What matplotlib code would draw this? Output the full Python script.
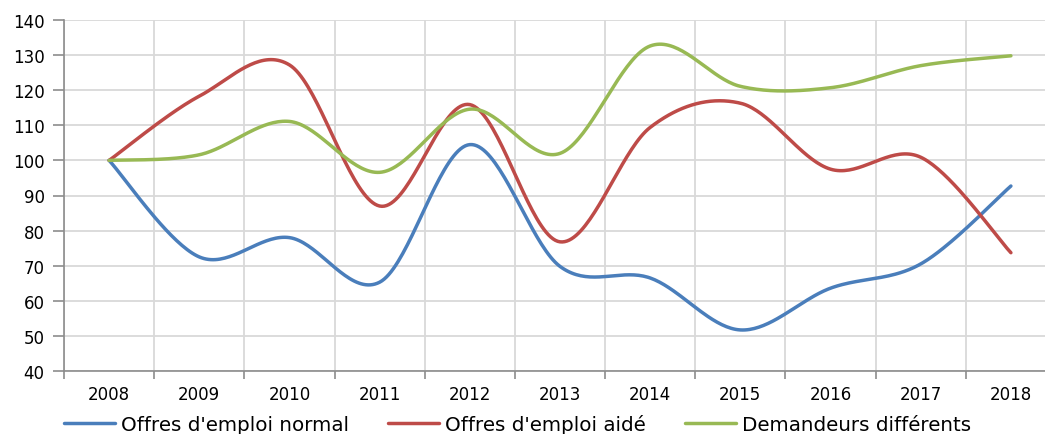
import numpy as np
import matplotlib
matplotlib.use("Agg")
import matplotlib.pyplot as plt

years = ["2008", "2009", "2010", "2011", "2012", "2013",
         "2014", "2015", "2016", "2017", "2018"]
offres_normal = [100, 72.5, 78, 65.3, 104.5, 69.8, 66.5, 51.7, 63.6, 70.5, 92.7]
offres_aide = [100, 118.3, 127.2, 87, 115.9, 76.8, 109.4, 116.3, 97.5, 100.9, 73.7]
demandeurs = [100, 101.6, 111.1, 96.6, 114.6, 102, 132.6, 121.1, 120.7, 127, 129.8]

series = [
    ("Offres d'emploi normal", offres_normal, "#4A7EBB"),
    ("Offres d'emploi aidé", offres_aide, "#BE4B48"),
    ("Demandeurs différents", demandeurs, "#98B954"),
]


def smooth(y, n=40):
    """Excel-like smoothed line (Catmull-Rom as cubic bezier)."""
    x = np.arange(len(y), dtype=float)
    y = np.asarray(y, dtype=float)
    px = np.concatenate([[x[0]], x, [x[-1]]])
    py = np.concatenate([[y[0]], y, [y[-1]]])
    t = np.linspace(0, 1, n)[:, None]
    xs, ys = [], []
    for i in range(1, len(px) - 2):
        p0 = np.array([px[i - 1], py[i - 1]])
        p1 = np.array([px[i], py[i]])
        p2 = np.array([px[i + 1], py[i + 1]])
        p3 = np.array([px[i + 2], py[i + 2]])
        c1 = p1 + (p2 - p0) / 6
        c2 = p2 - (p3 - p1) / 6
        pts = ((1 - t) ** 3) * p1 + 3 * ((1 - t) ** 2) * t * c1 \
            + 3 * (1 - t) * t ** 2 * c2 + t ** 3 * p2
        xs.append(pts[:, 0])
        ys.append(pts[:, 1])
    return np.concatenate(xs), np.concatenate(ys)


plt.rcParams["font.family"] = ["DejaVu Sans"]

fig = plt.figure(figsize=(10.45, 4.35), dpi=100)
ax = fig.add_axes([64 / 1045, 63 / 435, 992 / 1045, 351 / 435])

for label, vals, color in series:
    sx, sy = smooth(vals)
    ax.plot(sx, sy, color=color, lw=2.5, label=label, solid_capstyle="round")

ax.set_xlim(-0.5, len(years) - 0.5)
ax.set_ylim(40, 140)
ax.set_yticks(np.arange(40, 141, 10))
ax.set_xticks(np.arange(len(years)))
ax.set_xticklabels(years)
ax.set_xticks(np.arange(len(years) + 1) - 0.5, minor=True)

ax.grid(axis="y", color="#D9D9D9", lw=1.3)
ax.grid(axis="x", which="minor", color="#D9D9D9", lw=1.3)
ax.set_axisbelow(True)

for s in ["top", "right"]:
    ax.spines[s].set_visible(False)
for s in ["left", "bottom"]:
    ax.spines[s].set_color("#8C8C8C")
    ax.spines[s].set_linewidth(1.2)

ax.tick_params(axis="y", length=8, width=1.2, color="#8C8C8C",
               labelsize=12, pad=6)
ax.tick_params(axis="x", which="major", length=0, labelsize=12, pad=10)
ax.tick_params(axis="x", which="minor", length=6, width=1.2, color="#8C8C8C")

fig.legend(loc="lower left", bbox_to_anchor=(60 / 1045, -0.01), ncol=3,
           frameon=False, fontsize=14.3, handlelength=2.55,
           handletextpad=0.3, columnspacing=2.0, borderaxespad=0.1,
           borderpad=0.1)

fig.savefig("out.png", dpi=100)
